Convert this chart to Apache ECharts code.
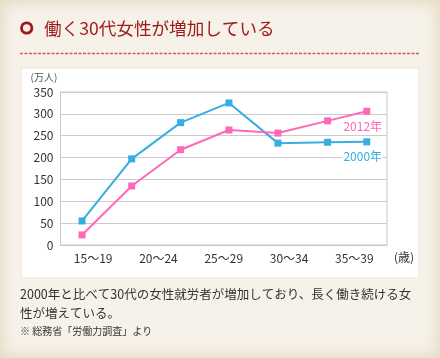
<!DOCTYPE html>
<html><head><meta charset="utf-8">
<script src="https://cdn.jsdelivr.net/npm/echarts@6/dist/echarts.min.js"></script>
<style>
html,body{margin:0;padding:0;}
#wrap{position:relative;width:440px;height:358px;background:#f6f2ea;box-shadow:inset 0 0 14px 4px #e6dcc6;overflow:hidden;}
#chart{position:absolute;left:0;top:0;width:440px;height:358px;}
</style></head>
<body><div id="wrap"><div id="chart"></div></div>
<script>
const categories = ['15\u301c19','20\u301c24','25\u301c29','30\u301c34','35\u301c39'];
const pointX = [0.33, 1.09, 1.84, 2.58, 3.33, 4.09, 4.69];
const values2000 = [55, 197, 280, 325, 233, 235, 236];
const values2012 = [23, 135, 218, 263, 256, 284, 306];
const yTicks = [0, 50, 100, 150, 200, 250, 300, 350];
const titleText = '働く30代女性が増加している';
const bodyLine1 = '2000年と比べて30代の女性就労者が増加しており、長く働き続ける女';
const bodyLine2 = '性が増えている。';
const noteText = '※ 総務省「労働力調査」より';

const BLUE = '#36aee1', PINK = '#ff68b8';
const FONT = '"Noto Sans CJK JP","Noto Sans",sans-serif';

function pairs(vals, lastLabel){
  return vals.map((v,i)=>{
    const d = {value:[pointX[i], v]};
    if (i === vals.length-1) d.label = lastLabel;
    return d;
  });
}

const chart = echarts.init(document.getElementById('chart'), null, {renderer:'canvas'});
chart.setOption({
  backgroundColor:'transparent',
  animation:false,
  textStyle:{fontFamily:FONT},
  grid:{left:60.5, right:53, top:92, bottom:113, show:true, borderColor:'#c8c8c8', borderWidth:1, z:1},
  xAxis:[
    {type:'category', data:categories, boundaryGap:true,
     axisLine:{lineStyle:{color:'#c8c8c8'}}, axisTick:{show:false},
     axisLabel:{color:'#333', fontSize:12, margin:7, fontFamily:FONT}},
    {type:'value', min:0, max:5, show:false}
  ],
  yAxis:{type:'value', min:0, max:350, interval:50,
    axisLine:{show:true, lineStyle:{color:'#c8c8c8'}}, axisTick:{show:false},
    splitLine:{lineStyle:{color:'#cccccc'}},
    axisLabel:{color:'#333', fontSize:12, margin:7, fontFamily:FONT,
      formatter:v=> yTicks.includes(v) ? String(v) : ''}},
  series:[
    {name:'2000年', type:'line', xAxisIndex:1, data:pairs(values2000,
      {show:true, position:'inside', offset:[-4,15], formatter:'2000年', color:BLUE, fontSize:12,
       backgroundColor:'#fff', padding:[0,1], fontFamily:FONT}),
     symbol:'rect', symbolSize:7, lineStyle:{color:BLUE, width:2}, itemStyle:{color:BLUE}, z:3},
    {name:'2012年', type:'line', xAxisIndex:1, data:pairs(values2012,
      {show:true, position:'inside', offset:[-4,15.5], formatter:'2012年', color:PINK, fontSize:12,
       backgroundColor:'#fff', padding:[0,1], fontFamily:FONT}),
     symbol:'rect', symbolSize:7, lineStyle:{color:PINK, width:2}, itemStyle:{color:PINK}, z:4}
  ],
  graphic:[
    {type:'rect', shape:{x:21, y:68, width:398, height:210}, style:{fill:'#fff', stroke:'#ece5d3', lineWidth:1}, z:-10, silent:true},
    {type:'circle', shape:{cx:26.7, cy:28, r:5.2}, style:{fill:'none', stroke:'#9e1a1a', lineWidth:2.8}, z:5},
    {type:'text', x:44, y:28, style:{text:titleText, fill:'#9e1a1a', font:'17.6px '+FONT, textVerticalAlign:'middle'}, z:5},
    {type:'line', shape:{x1:20, y1:53.5, x2:420, y2:53.5}, style:{stroke:'#c45f5f', lineWidth:1.5, lineDash:[3,1.5]}, z:5},
    {type:'text', x:44, y:77, style:{text:'(万人)', fill:'#555', font:'10px '+FONT, textAlign:'center', textVerticalAlign:'middle'}, z:5},
    {type:'text', x:404, y:257.5, style:{text:'(歳)', fill:'#333', font:'12px '+FONT, textAlign:'center', textVerticalAlign:'middle'}, z:5},
    {type:'text', x:20, y:294.5, style:{text:bodyLine1, fill:'#333', font:'12.5px '+FONT, textVerticalAlign:'middle'}, z:5},
    {type:'text', x:20, y:313.5, style:{text:bodyLine2, fill:'#333', font:'12.5px '+FONT, textVerticalAlign:'middle'}, z:5},
    {type:'text', x:20, y:331, style:{text:noteText, fill:'#333', font:'10px '+FONT, textVerticalAlign:'middle'}, z:5}
  ]
});
</script></body></html>
